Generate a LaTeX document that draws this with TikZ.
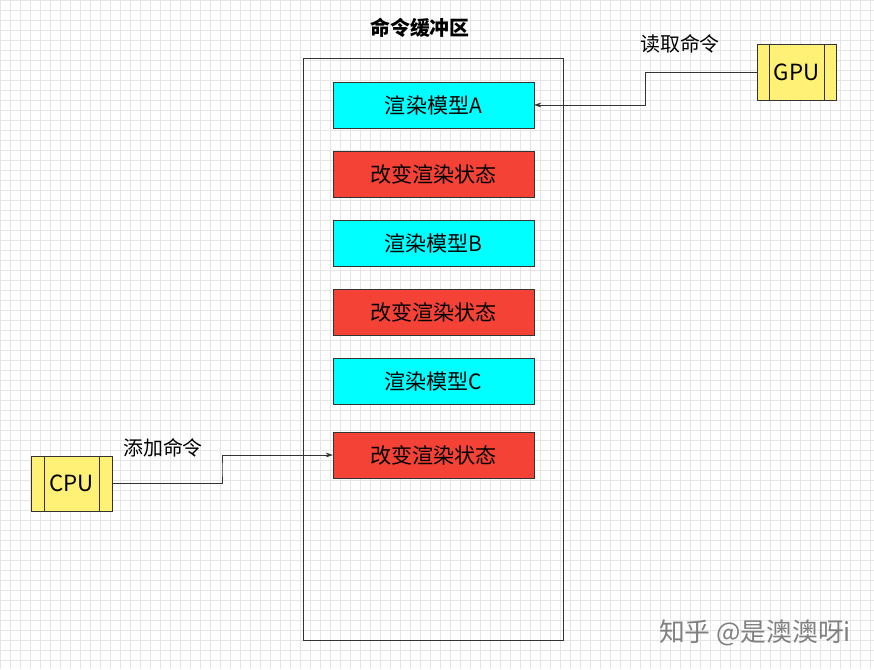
\documentclass[tikz,border=0pt]{standalone}
\usepackage{fontspec}
\setmainfont{Noto Sans CJK SC}
\usetikzlibrary{arrows.meta}
\definecolor{boxcyan}{HTML}{00FFFF}
\definecolor{boxred}{HTML}{F44336}
\definecolor{procyellow}{HTML}{FFF176}
\tikzset{
  cmd/.style={draw=black!80, minimum width=201*0.03cm, minimum height=46*0.03cm, inner sep=0pt, font=\fontsize{18}{20}\selectfont},
  proc/.style={draw=black!80, fill=procyellow, minimum height=56*0.03cm, inner sep=0pt, font=\fontsize{19}{21}\selectfont},
  link/.style={draw=black!80, -{Stealth[length=6pt,width=4pt]}},
  lbl/.style={font=\fontsize{17}{19}\selectfont}
}
\begin{document}
\begin{tikzpicture}[x=0.03cm,y=-0.03cm]
\useasboundingbox (0,0) rectangle (874,669);
\fill[white] (0,0) rectangle (874,669);
\draw[black!10, step=10*0.03cm] (0,0) grid (874,669);

\node[font=\bfseries\fontsize{17}{19}\selectfont] (title) at (420,28) {命令缓冲区};
\draw[black!80] (303,58) rectangle (563,640);

\node[cmd, fill=boxcyan] (rA) at (433.5,105) {渲染模型A};
\node[cmd, fill=boxred]  (s1) at (433.5,174) {改变渲染状态};
\node[cmd, fill=boxcyan] (rB) at (433.5,243) {渲染模型B};
\node[cmd, fill=boxred]  (s2) at (433.5,312) {改变渲染状态};
\node[cmd, fill=boxcyan] (rC) at (433.5,381) {渲染模型C};
\node[cmd, fill=boxred]  (s3) at (433.5,455) {改变渲染状态};

% processors
\node[proc, minimum width=79*0.03cm] (gpu) at (796.5,72) {GPU};
\draw[black!80] ([xshift=12*0.03cm]gpu.north west) -- ([xshift=12*0.03cm]gpu.south west);
\draw[black!80] ([xshift=-12*0.03cm]gpu.north east) -- ([xshift=-12*0.03cm]gpu.south east);
\node[proc, minimum width=81*0.03cm, minimum height=55*0.03cm] (cpu) at (71.5,483.5) {CPU};
\draw[black!80] ([xshift=13*0.03cm]cpu.north west) -- ([xshift=13*0.03cm]cpu.south west);
\draw[black!80] ([xshift=-13*0.03cm]cpu.north east) -- ([xshift=-13*0.03cm]cpu.south east);

% connectors
\draw[link] (gpu.west) -| (645,88) |- (rA.east);
\draw[link] (cpu.east) -| (222,470) |- (s3.west);
\node[lbl] (read) at (680,44) {读取命令};
\node[lbl] (add) at (163,448) {添加命令};

\node[text=black!50, font=\fontsize{22}{24}\selectfont] (mark) at (755,633) {知乎 @是澳澳呀i};
\end{tikzpicture}
\end{document}
